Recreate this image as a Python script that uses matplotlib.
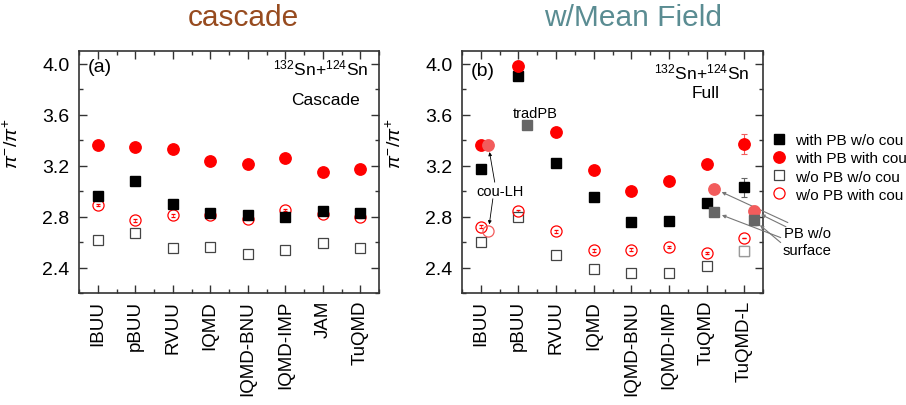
import matplotlib
matplotlib.use("Agg")
import matplotlib.pyplot as plt
from matplotlib.lines import Line2D
from matplotlib.ticker import MultipleLocator

plt.rcParams["font.family"] = ["Liberation Sans", "DejaVu Sans"]
plt.rcParams["mathtext.fontset"] = "custom"
plt.rcParams["mathtext.rm"] = "Liberation Sans"
plt.rcParams["mathtext.it"] = "Liberation Sans:italic"

# ---- panel (a): cascade only ----
models_a = ["IBUU", "pBUU", "RVUU", "IQMD", "IQMD-BNU", "IQMD-IMP", "JAM", "TuQMD"]
a_pb_nocou = [2.96, 3.08, 2.90, 2.83, 2.81, 2.80, 2.84, 2.83]
a_pb_cou = [3.36, 3.35, 3.33, 3.24, 3.21, 3.26, 3.15, 3.17]
a_nopb_nocou = [2.62, 2.67, 2.55, 2.56, 2.51, 2.54, 2.59, 2.55]
a_nopb_cou = [2.89, 2.77, 2.81, 2.81, 2.78, 2.85, 2.82, 2.80]
a_open_err = [0.01, 0.01, 0.01, 0.01, 0.01, 0.01, 0.01, 0.01]

# ---- panel (b): with mean field ----
models_b = ["IBUU", "pBUU", "RVUU", "IQMD", "IQMD-BNU", "IQMD-IMP", "TuQMD", "TuQMD-L"]
b_pb_nocou = [3.17, 3.90, 3.22, 2.955, 2.76, 2.765, 2.905, 3.03]
b_pb_nocou_err = [0.0, 0.03, 0.01, 0.0, 0.0, 0.0, 0.0, 0.075]
b_pb_cou = [3.36, 3.98, 3.465, 3.165, 3.00, 3.08, 3.21, 3.37]
b_pb_cou_err = [0.0, 0.0, 0.0, 0.0, 0.0, 0.0, 0.0, 0.08]
b_nopb_nocou = [2.60, 2.795, 2.50, 2.39, 2.36, 2.36, 2.41, 2.53]
b_nopb_cou = [2.72, 2.845, 2.685, 2.535, 2.54, 2.56, 2.515, 2.635]
b_open_err = [0.01, 0.01, 0.01, 0.01, 0.01, 0.01, 0.01, 0.0]

# model variants drawn beside their parent model
couLH_ibuu = [3.36, 2.685]        # IBUU cou-LH: with PB, w/o PB (with cou)
tradPB_pbuu = 3.52                 # pBUU traditional PB
surface_tuqmd = [3.02, 2.835]      # TuQMD PB w/o surface: with cou, w/o cou
surface_tuqmdL = [2.845, 2.775]    # TuQMD-L PB w/o surface: with cou, w/o cou
surface_tuqmdL_err = [0.04, 0.04]

RED = "#ff0000"
LIGHTRED = "#f25c5c"
GRAY = "#666666"
AXC = "#333333"

MS_FC = 8.2   # filled circle
MS_FS = 7.0   # filled square
MS_OC = 8.0   # open circle
MS_OS = 7.0   # open square

fig = plt.figure(figsize=(9.06, 4.06), dpi=100)
ax_a = fig.add_axes([79 / 906, 1 - 294 / 406, 300 / 906, 242 / 406])
ax_b = fig.add_axes([462 / 906, 1 - 294 / 406, 301 / 906, 242 / 406])


def draw_main(ax, names, pb_nocou, pb_cou, nopb_nocou, nopb_cou, open_err,
              pb_nocou_err=None, pb_cou_err=None):
    x = list(range(1, len(names) + 1))
    ax.errorbar(x, nopb_nocou, yerr=open_err, fmt="s", ms=MS_OS, mfc="white",
                mec="#444444", mew=0.9, ecolor="#444444", elinewidth=0.5,
                capsize=1.2, capthick=0.5, zorder=3)
    ax.errorbar(x, nopb_cou, yerr=open_err, fmt="o", ms=MS_OC, mfc="none",
                mec=RED, mew=0.9, ecolor=RED, elinewidth=0.5,
                capsize=1.2, capthick=0.5, zorder=3)
    ax.errorbar(x, pb_nocou, yerr=pb_nocou_err, fmt="s", ms=MS_FS, color="black",
                ecolor=GRAY, elinewidth=0.8, capsize=2.5, capthick=0.8, zorder=4)
    ax.errorbar(x, pb_cou, yerr=pb_cou_err, fmt="o", ms=MS_FC, color=RED,
                ecolor=LIGHTRED, elinewidth=0.8, capsize=2.5, capthick=0.8, zorder=4)


def style_axes(ax, names):
    ax.set_xlim(0.5, len(names) + 0.5)
    ax.set_ylim(2.2, 4.1)
    ax.set_xticks(range(1, len(names) + 1))
    ax.set_xticklabels(names, rotation=90, fontsize=13.5)
    ax.xaxis.set_minor_locator(MultipleLocator(0.5))
    ax.set_yticks([2.4, 2.8, 3.2, 3.6, 4.0])
    ax.set_yticklabels(["2.4", "2.8", "3.2", "3.6", "4.0"], fontsize=14)
    ax.yaxis.set_minor_locator(MultipleLocator(0.2))
    ax.tick_params(which="both", direction="in", top=True, right=True,
                   color=AXC, width=1.0)
    ax.tick_params(which="major", length=5.5, pad=7)
    ax.tick_params(which="minor", length=3)
    ax.tick_params(axis="x", which="major", pad=5)
    for s in ax.spines.values():
        s.set_color(AXC)
        s.set_linewidth(1.2)
    ax.set_ylabel(r"$\pi^{-}/\pi^{+}$", fontsize=14)
    ax.yaxis.set_label_coords(-0.19, 0.62)


draw_main(ax_a, models_a, a_pb_nocou, a_pb_cou, a_nopb_nocou, a_nopb_cou, a_open_err)
style_axes(ax_a, models_a)

draw_main(ax_b, models_b, b_pb_nocou, b_pb_cou, b_nopb_nocou, b_nopb_cou, b_open_err,
          b_pb_nocou_err, b_pb_cou_err)
style_axes(ax_b, models_b)

# TuQMD-L open square in lighter gray
ax_b.plot([8], [b_nopb_nocou[7]], "s", ms=MS_OS, mfc="white", mec="#9a9a9a", mew=0.9, zorder=5)

# variants
ax_b.plot([1.2], [couLH_ibuu[0]], "o", ms=MS_FC, color=LIGHTRED, zorder=5)
ax_b.plot([1.2], [couLH_ibuu[1]], "o", ms=MS_OC, mfc="none", mec=LIGHTRED, mew=0.9, zorder=5)
ax_b.plot([2.22], [tradPB_pbuu], "s", ms=MS_FS, color=GRAY, zorder=5)
ax_b.plot([7.2], [surface_tuqmd[0]], "o", ms=MS_FC, color=LIGHTRED, zorder=5)
ax_b.plot([7.2], [surface_tuqmd[1]], "s", ms=MS_FS, color=GRAY, zorder=5)
ax_b.errorbar([8.25], [surface_tuqmdL[0]], yerr=[surface_tuqmdL_err[0]], fmt="o", ms=MS_FC,
              color=LIGHTRED, ecolor=LIGHTRED, elinewidth=0.8, capsize=2, zorder=5)
ax_b.errorbar([8.25], [surface_tuqmdL[1]], yerr=[surface_tuqmdL_err[1]], fmt="s", ms=MS_FS,
              color=GRAY, ecolor=GRAY, elinewidth=0.8, capsize=2, zorder=5)

# panel labels and reaction text
ax_a.text(0.028, 0.935, "(a)", transform=ax_a.transAxes, fontsize=14, va="center", ha="left")
ax_b.text(0.028, 0.92, "(b)", transform=ax_b.transAxes, fontsize=14, va="center", ha="left")
ax_a.text(0.807, 0.932, r"$^{132}$Sn+$^{124}$Sn", transform=ax_a.transAxes,
          fontsize=12.5, ha="center", va="center")
ax_a.text(0.82, 0.80, "Cascade", transform=ax_a.transAxes, fontsize=12.5,
          ha="center", va="center")
ax_b.text(0.795, 0.916, r"$^{132}$Sn+$^{124}$Sn", transform=ax_b.transAxes,
          fontsize=12.5, ha="center", va="center")
ax_b.text(0.81, 0.83, "Full", transform=ax_b.transAxes, fontsize=12.5,
          ha="center", va="center")

# annotations in panel (b)
ax_b.text(2.44, 3.616, "tradPB", fontsize=10.5, ha="center", va="center")
ax_b.text(1.51, 3.004, "cou-LH", fontsize=10.5, ha="center", va="center")
arrow_k = dict(arrowstyle="-|>", color="black", lw=0.6, shrinkA=0, shrinkB=5,
               mutation_scale=5)
ax_b.annotate("", xy=(1.2, couLH_ibuu[0]), xytext=(1.37, 3.07), arrowprops=arrow_k)
ax_b.annotate("", xy=(1.2, couLH_ibuu[1]), xytext=(1.32, 2.94), arrowprops=arrow_k)

arrow_g = dict(arrowstyle="-|>", color="#777777", lw=0.8, shrinkA=0, shrinkB=6,
               mutation_scale=5)
ax_b.annotate("", xy=(7.2, surface_tuqmd[0]), xytext=(9.16, 2.753),
              arrowprops=arrow_g, annotation_clip=False)
ax_b.annotate("", xy=(7.2, surface_tuqmd[1]), xytext=(8.97, 2.635),
              arrowprops=arrow_g, annotation_clip=False)
ax_b.annotate("", xy=(8.25, surface_tuqmdL[0]), xytext=(9.11, 2.72),
              arrowprops=arrow_g, annotation_clip=False)
ax_b.annotate("", xy=(8.25, surface_tuqmdL[1]), xytext=(8.97, 2.596),
              arrowprops=arrow_g, annotation_clip=False)
ax_b.text(9.06, 2.67, "PB w/o", fontsize=10.7, ha="left", va="center", clip_on=False)
ax_b.text(9.03, 2.535, "surface", fontsize=10.7, ha="left", va="center", clip_on=False)

# legend
handles = [
    Line2D([], [], ls="none", marker="s", ms=MS_FS, color="black"),
    Line2D([], [], ls="none", marker="o", ms=MS_FC, color=RED),
    Line2D([], [], ls="none", marker="s", ms=MS_OS, mfc="white", mec="#444444", mew=0.9),
    Line2D([], [], ls="none", marker="o", ms=MS_OC, mfc="none", mec=RED, mew=0.9),
]
labels = ["with PB w/o cou", "with PB with cou", "w/o PB w/o cou", "w/o PB with cou"]
fig.legend(handles, labels, loc="upper left", bbox_to_anchor=(771.5 / 906, 1 - 134 / 406),
           frameon=False, fontsize=11, handlelength=1.0, handletextpad=0.55,
           labelspacing=0.28, borderpad=0, borderaxespad=0)

# headings
fig.text(243.5 / 906, 1 - 18 / 406, "cascade", fontsize=21.5, color="#974b1f",
         ha="center", va="center")
fig.text(633 / 906, 1 - 18 / 406, "w/Mean Field", fontsize=21.5, color="#5a8c92",
         ha="center", va="center")

fig.savefig("out.png", dpi=100)
